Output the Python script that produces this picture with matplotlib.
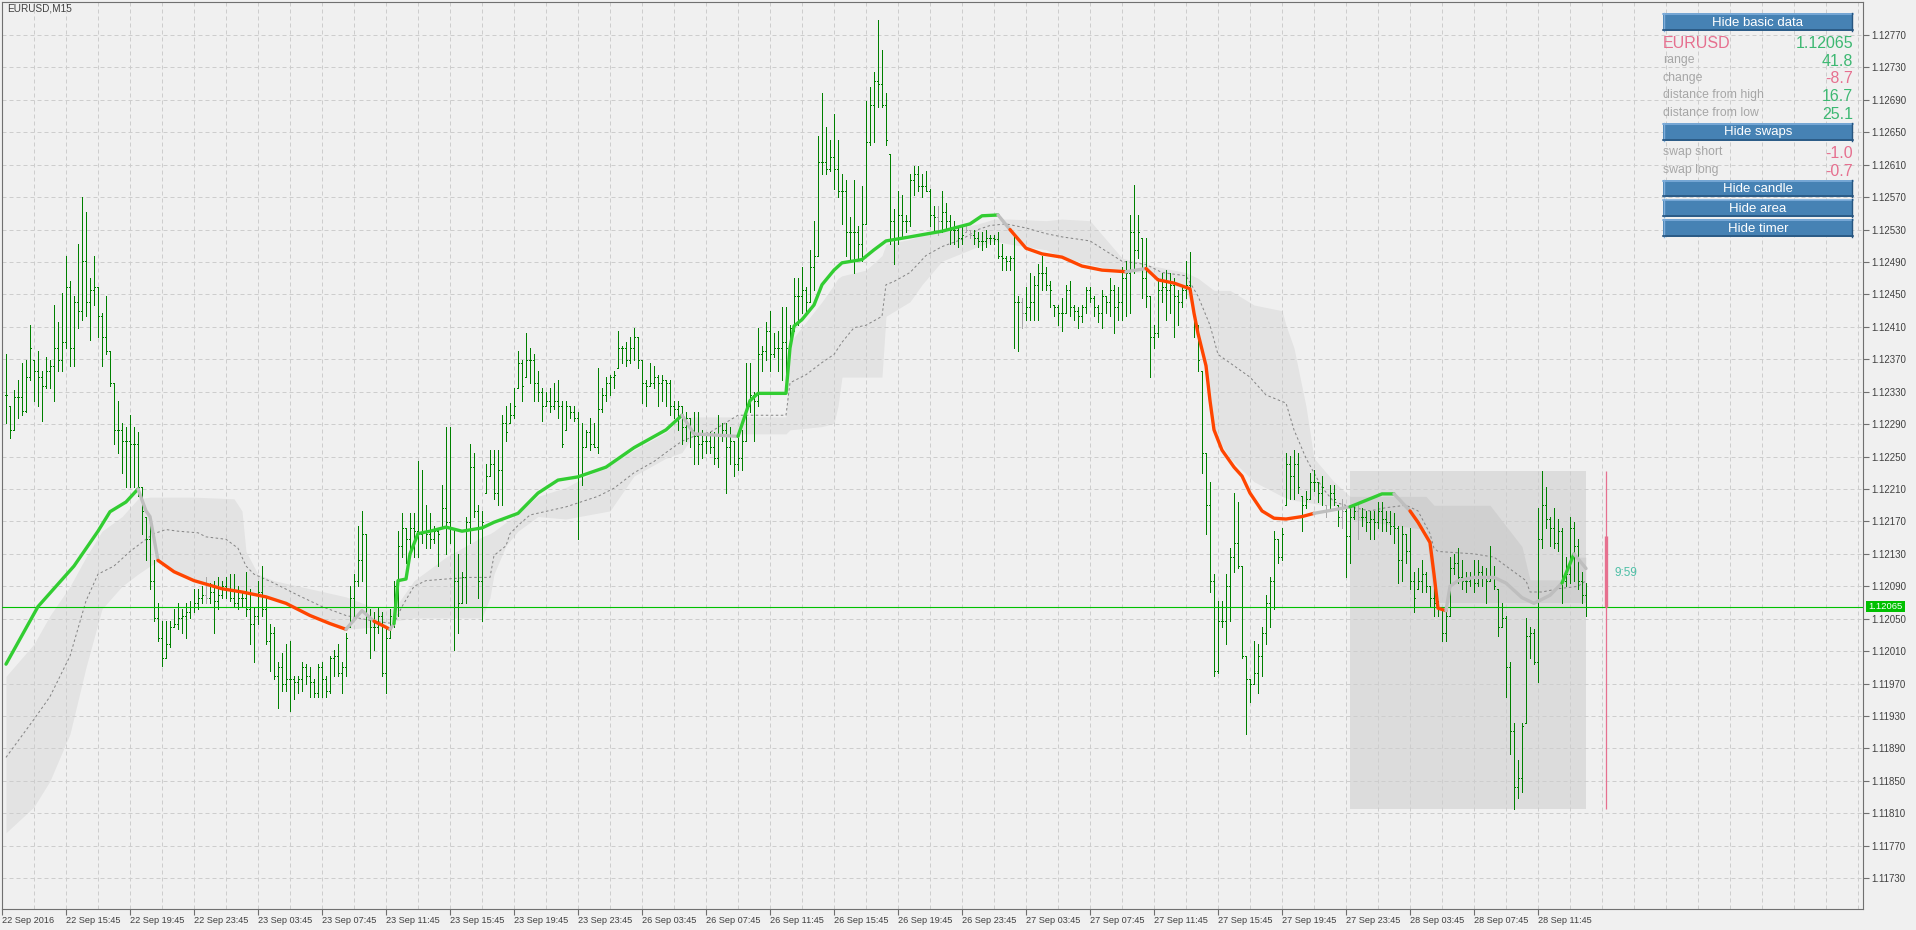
import matplotlib
matplotlib.use('Agg')
import matplotlib.pyplot as plt
from matplotlib.collections import LineCollection
from matplotlib.patches import Rectangle
import numpy as np

plt.rcParams['font.family'] = ['Liberation Sans', 'DejaVu Sans']

# EURUSD M15 bars, prices in points (1e-5)
high_pts = [
    112376, 112312, 112332, 112344, 112366, 112369, 112412, 112369, 112380, 112355,
    112373, 112369, 112437, 112416, 112452, 112498, 112466, 112448, 112512, 112570,
    112552, 112470, 112498, 112459, 112427, 112448, 112380, 112341, 112319, 112291,
    112287, 112301, 112287, 112280, 112212, 112176, 112169, 112122, 112069, 112047,
    112047, 112047, 112062, 112069, 112062, 112069, 112072, 112087, 112087, 112090,
    112101, 112094, 112097, 112101, 112097, 112101, 112105, 112105, 112090, 112083,
    112108, 112087, 112065, 112097, 112115, 112076, 112044, 112040, 111997, 112008,
    112019, 112022, 111979, 111979, 111997, 111994, 111990, 111976, 111994, 111997,
    111979, 112004, 112012, 112019, 111997, 112033, 112090, 112105, 112165, 112183,
    112155, 112062, 112058, 112065, 112058, 112040, 112062, 112097, 112158, 112180,
    112162, 112180, 112180, 112244, 112233, 112190, 112180, 112165, 112162, 112215,
    112287, 112287, 112162, 112130, 112108, 112176, 112266, 112255, 112190, 112183,
    112241, 112258, 112258, 112258, 112301, 112312, 112316, 112334, 112380, 112369,
    112402, 112384, 112376, 112355, 112334, 112330, 112334, 112341, 112344, 112319,
    112319, 112312, 112312, 112305, 112291, 112283, 112298, 112291, 112359, 112334,
    112348, 112351, 112355, 112405, 112387, 112391, 112398, 112409, 112398, 112369,
    112344, 112366, 112362, 112351, 112351, 112344, 112344, 112319, 112319, 112312,
    112305, 112298, 112305, 112305, 112283, 112276, 112280, 112280, 112301, 112291,
    112291, 112287, 112269, 112280, 112283, 112366, 112366, 112330, 112409, 112387,
    112416, 112430, 112402, 112405, 112434, 112434, 112412, 112470, 112470, 112484,
    112459, 112505, 112541, 112645, 112698, 112656, 112641, 112673, 112641, 112598,
    112591, 112545, 112591, 112534, 112584, 112688, 112706, 112724, 112788, 112752,
    112698, 112623, 112555, 112577, 112573, 112548, 112598, 112609, 112609, 112598,
    112602, 112580, 112559, 112559, 112577, 112563, 112548, 112541, 112534, 112534,
    112537, 112530, 112530, 112527, 112527, 112530, 112523, 112523, 112527, 112512,
    112498, 112498, 112523, 112448, 112445, 112459, 112477, 112473, 112487, 112498,
    112484, 112466, 112437, 112437, 112445, 112462, 112466, 112437, 112434, 112437,
    112459, 112459, 112448, 112437, 112455, 112448, 112470, 112462, 112459, 112484,
    112491, 112548, 112585, 112548, 112520, 112520, 112448, 112412, 112470, 112477,
    112480, 112477, 112470, 112455, 112462, 112491, 112502, 112430, 112412, 112355,
    112255, 112219, 112105, 112072, 112072, 112105, 112137, 112205, 112194, 112115,
    112004, 111976, 112022, 112019, 112040, 112079, 112101, 112158, 112148, 112162,
    112255, 112251, 112258, 112255, 112201, 112208, 112230, 112233, 112219, 112226,
    112190, 112215, 112215, 112190, 112198, 112187, 112187, 112190, 112190, 112187,
    112183, 112183, 112183, 112194, 112194, 112183, 112183, 112180, 112165, 112165,
    112155, 112162, 112108, 112112, 112122, 112108, 112090, 112097, 112072, 112062,
    112058, 112126, 112130, 112137, 112122, 112108, 112108, 112122, 112122, 112115,
    112112, 112140, 112115, 112087, 112069, 112054, 111997, 111922, 111876, 111922,
    112051, 112040, 112037, 112187, 112232, 112212, 112176, 112187, 112173, 112162,
    112126, 112176, 112169, 112148, 112108, 112094,
]
low_pts = [
    112291, 112273, 112283, 112298, 112301, 112305, 112344, 112319, 112312, 112294,
    112335, 112334, 112319, 112355, 112355, 112384, 112362, 112362, 112409, 112419,
    112423, 112394, 112437, 112398, 112362, 112376, 112337, 112266, 112255, 112230,
    112212, 112212, 112212, 112201, 112155, 112122, 112087, 112047, 112022, 111992,
    112001, 112015, 112040, 112037, 112033, 112026, 112051, 112058, 112062, 112069,
    112069, 112069, 112033, 112062, 112076, 112076, 112072, 112065, 112062, 112065,
    112054, 112019, 111997, 112044, 112054, 112019, 111986, 111976, 111940, 111961,
    111961, 111936, 111951, 111958, 111961, 111969, 111954, 111954, 111954, 111954,
    111954, 111958, 111979, 111979, 111958, 111979, 112040, 112054, 112090, 112097,
    112033, 112001, 112012, 112033, 111979, 111958, 112026, 112040, 112054, 112126,
    112119, 112137, 112126, 112126, 112144, 112137, 112137, 112144, 112115, 112162,
    112130, 112144, 112012, 112033, 112069, 112069, 112144, 112176, 112076, 112047,
    112205, 112226, 112198, 112190, 112190, 112269, 112291, 112298, 112334, 112319,
    112348, 112341, 112319, 112319, 112294, 112312, 112305, 112309, 112298, 112262,
    112283, 112298, 112294, 112148, 112215, 112262, 112258, 112262, 112255, 112305,
    112319, 112326, 112334, 112359, 112366, 112362, 112366, 112369, 112359, 112316,
    112312, 112337, 112334, 112312, 112319, 112312, 112301, 112298, 112283, 112266,
    112269, 112262, 112241, 112241, 112248, 112255, 112255, 112241, 112237, 112269,
    112205, 112241, 112226, 112233, 112233, 112269, 112305, 112269, 112312, 112355,
    112369, 112355, 112373, 112355, 112344, 112337, 112384, 112405, 112412, 112427,
    112430, 112441, 112455, 112498, 112598, 112598, 112602, 112580, 112570, 112537,
    112498, 112491, 112477, 112495, 112491, 112537, 112634, 112638, 112681, 112681,
    112634, 112512, 112487, 112512, 112520, 112527, 112534, 112573, 112577, 112570,
    112577, 112534, 112527, 112523, 112527, 112530, 112512, 112512, 112509, 112512,
    112527, 112520, 112512, 112509, 112505, 112509, 112512, 112512, 112495, 112480,
    112480, 112480, 112384, 112380, 112409, 112419, 112419, 112419, 112419, 112455,
    112455, 112434, 112423, 112412, 112405, 112427, 112423, 112419, 112409, 112416,
    112427, 112441, 112423, 112416, 112409, 112427, 112423, 112402, 112419, 112419,
    112423, 112427, 112477, 112495, 112445, 112434, 112348, 112384, 112398, 112441,
    112419, 112427, 112398, 112412, 112434, 112445, 112448, 112398, 112355, 112230,
    112155, 112083, 111979, 111983, 112040, 112019, 112047, 112108, 112112, 112001,
    111908, 111947, 111969, 111958, 111979, 112019, 112040, 112062, 112119, 112122,
    112190, 112198, 112198, 112205, 112158, 112187, 112198, 112208, 112194, 112190,
    112176, 112183, 112190, 112165, 112162, 112101, 112119, 112173, 112148, 112165,
    112158, 112148, 112148, 112162, 112158, 112158, 112155, 112144, 112094, 112097,
    112119, 112087, 112058, 112087, 112083, 112083, 112065, 112054, 112054, 112022,
    112022, 112054, 112105, 112094, 112087, 112083, 112090, 112083, 112090, 112090,
    112069, 112097, 112087, 112029, 112040, 111954, 111883, 111815, 111829, 111836,
    111922, 112001, 111994, 111972, 112137, 112162, 112140, 112137, 112133, 112069,
    112090, 112094, 112097, 112087, 112069, 112054,
]
close_pts = [
    112326, 112283, 112323, 112323, 112306, 112348, 112384, 112355, 112348, 112337,
    112355, 112362, 112384, 112369, 112391, 112459, 112384, 112441, 112430, 112491,
    112441, 112455, 112459, 112423, 112398, 112380, 112341, 112283, 112283, 112269,
    112269, 112266, 112266, 112212, 112183, 112148, 112097, 112051, 112026, 112001,
    112019, 112040, 112044, 112051, 112054, 112058, 112065, 112069, 112076, 112079,
    112076, 112083, 112072, 112079, 112090, 112087, 112076, 112069, 112076, 112076,
    112062, 112044, 112054, 112083, 112062, 112022, 112033, 111979, 111990, 111969,
    111976, 111976, 111972, 111976, 111990, 111979, 111972, 111958, 111990, 111976,
    111961, 112001, 112004, 111983, 111990, 112026, 112076, 112097, 112122, 112155,
    112054, 112040, 112040, 112054, 111983, 112026, 112054, 112090, 112140, 112162,
    112148, 112162, 112158, 112155, 112158, 112155, 112148, 112158, 112155, 112187,
    112169, 112162, 112097, 112069, 112101, 112169, 112237, 112183, 112097, 112169,
    112226, 112241, 112205, 112233, 112291, 112280, 112301, 112312, 112366, 112337,
    112369, 112369, 112341, 112330, 112312, 112319, 112312, 112319, 112312, 112266,
    112312, 112305, 112298, 112226, 112262, 112280, 112266, 112262, 112309, 112326,
    112341, 112348, 112351, 112384, 112384, 112369, 112384, 112398, 112369, 112341,
    112337, 112341, 112348, 112341, 112344, 112341, 112312, 112309, 112312, 112287,
    112298, 112283, 112276, 112266, 112269, 112269, 112262, 112248, 112276, 112283,
    112262, 112269, 112241, 112248, 112269, 112312, 112326, 112319, 112376, 112380,
    112405, 112376, 112384, 112384, 112391, 112384, 112409, 112448, 112448, 112455,
    112441, 112484, 112498, 112613, 112613, 112605, 112620, 112605, 112577, 112577,
    112527, 112527, 112527, 112512, 112537, 112638, 112684, 112713, 112709, 112684,
    112641, 112541, 112520, 112548, 112541, 112541, 112591, 112598, 112584, 112584,
    112577, 112548, 112545, 112541, 112552, 112541, 112530, 112530, 112520, 112523,
    112530, 112523, 112520, 112516, 112516, 112520, 112520, 112518, 112498, 112495,
    112491, 112495, 112441, 112441, 112427, 112434, 112441, 112462, 112477, 112477,
    112462, 112455, 112434, 112427, 112427, 112455, 112434, 112430, 112423, 112434,
    112455, 112445, 112434, 112427, 112448, 112441, 112455, 112434, 112441, 112470,
    112477, 112527, 112505, 112527, 112470, 112448, 112398, 112402, 112455, 112459,
    112455, 112462, 112448, 112441, 112455, 112462, 112455, 112412, 112369, 112255,
    112190, 112097, 111986, 112047, 112047, 112090, 112126, 112144, 112115, 112004,
    111976, 111969, 111983, 112004, 112033, 112069, 112097, 112148, 112126, 112155,
    112241, 112226, 112241, 112212, 112190, 112198, 112219, 112219, 112205, 112212,
    112183, 112205, 112198, 112176, 112183, 112152, 112176, 112183, 112176, 112176,
    112169, 112173, 112169, 112183, 112173, 112169, 112165, 112162, 112122, 112155,
    112133, 112097, 112076, 112097, 112105, 112090, 112076, 112069, 112062, 112033,
    112054, 112112, 112119, 112101, 112097, 112097, 112101, 112094, 112108, 112101,
    112097, 112101, 112090, 112040, 112051, 111990, 111911, 111843, 111854, 111918,
    112029, 112033, 111997, 112148, 112190, 112173, 112162, 112144, 112158, 112097,
    112105, 112162, 112140, 112097, 112079, 112065,
]
gray_bars = [50, 233, 240, 241, 254, 330, 334, 338]

# coloured moving average: g = rising, r = falling, n = flat
ma_idx = [0, 8, 17, 23, 26, 30, 33, 35, 36, 38, 42, 47, 54, 59, 65, 70, 76, 81, 85, 89,
          92, 96, 97, 98, 100, 101, 103, 106, 110, 114, 119, 122, 128, 133, 138, 143, 150,
          157, 165, 169, 172, 183, 186, 188, 195, 196, 197, 199, 202, 204, 207, 209, 214,
          217, 220, 226, 234, 241, 244, 248, 251, 255, 259, 264, 269, 274, 280, 285, 288,
          292, 296, 297, 298, 300, 301, 302, 304, 307, 309, 311, 314, 317, 320, 324, 327,
          336, 341, 344, 347, 351, 353, 356, 357, 358, 360, 361, 363, 367, 372, 375, 379,
          382, 386, 389, 392, 395]
ma_pts = [111994, 112065, 112115, 112158, 112182, 112194, 112210, 112183, 112176, 112122,
          112108, 112097, 112087, 112083, 112077, 112069, 112054, 112044, 112037, 112060,
          112047, 112037, 112044, 112097, 112099, 112130, 112155, 112158, 112163, 112158,
          112162, 112169, 112180, 112205, 112221, 112225, 112237, 112261, 112283, 112301,
          112278, 112275, 112319, 112328, 112328, 112384, 112411, 112419, 112437, 112462,
          112480, 112489, 112493, 112505, 112516, 112521, 112528, 112537, 112547, 112548,
          112530, 112507, 112500, 112496, 112485, 112480, 112478, 112482, 112468, 112464,
          112457, 112427, 112402, 112362, 112319, 112283, 112258, 112237, 112226, 112205,
          112183, 112174, 112173, 112176, 112180, 112188, 112198, 112204, 112204, 112183,
          112169, 112144, 112105, 112063, 112060, 112090, 112097, 112101, 112101, 112094,
          112076, 112069, 112079, 112094, 112130, 112112]
ma_state = ('gggggg' 'nnn' 'rrrrrrrrr' 'nn' 'r' 'n' 'ggggggggggggggggg' 'nn'
            'gggggggggggggggggg' 'n' 'rrrrrr' 'n' 'rrrrrrrrrrrrrrrrr' 'n' 'ggg' 'n'
            'rrrrr' 'nnnnnnnnn' 'g' 'nn')

# dotted centre line
dash_idx = [0, 7, 11, 16, 20, 23, 27, 31, 35, 37, 40, 43, 48, 50, 55, 58, 60, 62, 67, 73,
            79, 85, 88, 92, 97, 99, 102, 105, 110, 116, 121, 122, 125, 126, 128, 131, 140,
            148, 152, 157, 162, 165, 169, 172, 176, 183, 195, 196, 200, 204, 207, 209, 212,
            215, 219, 220, 222, 226, 230, 234, 239, 243, 246, 250, 255, 260, 264, 271, 279,
            285, 289, 295, 298, 301, 303, 307, 311, 315, 320, 322, 325, 329, 332, 337, 341,
            345, 350, 353, 356, 357, 358, 367, 372, 375, 380, 381, 384, 388, 393, 395]
dash_pts = [111879, 111926, 111954, 112004, 112072, 112105, 112115, 112133, 112148, 112155,
            112160, 112158, 112156, 112151, 112148, 112137, 112115, 112105, 112094, 112079,
            112065, 112054, 112051, 112047, 112044, 112065, 112090, 112097, 112099, 112101,
            112101, 112128, 112140, 112155, 112165, 112178, 112188, 112201, 112211, 112230,
            112244, 112255, 112269, 112275, 112280, 112301, 112301, 112341, 112351, 112366,
            112376, 112391, 112409, 112412, 112423, 112462, 112466, 112477, 112498, 112509,
            112518, 112530, 112535, 112537, 112532, 112525, 112521, 112516, 112491, 112487,
            112477, 112473, 112448, 112412, 112376, 112362, 112348, 112326, 112316, 112283,
            112248, 112212, 112194, 112187, 112183, 112187, 112190, 112183, 112155, 112137,
            112133, 112130, 112126, 112115, 112097, 112083, 112083, 112087, 112090, 112097]

# shaded area around the average
band_idx = [0, 7, 11, 16, 20, 24, 29, 33, 36, 38, 47, 57, 59, 60, 63, 67, 76, 85, 93, 97,
            102, 110, 119, 121, 122, 125, 128, 133, 140, 151, 157, 165, 169, 172, 183, 195,
            196, 204, 207, 208, 209, 215, 219, 220, 226, 229, 234, 243, 247, 251, 260, 264,
            271, 279, 285, 295, 298, 302, 306, 312, 319, 320, 322, 325, 327, 332, 336, 337,
            355, 357, 371, 379, 381, 390, 391, 395]
band_hi = [111979, 112019, 112054, 112090, 112126, 112158, 112176, 112198, 112200, 112200,
           112200, 112198, 112183, 112133, 112105, 112097, 112087, 112077, 112062, 112062,
           112097, 112126, 112151, 112155, 112158, 112169, 112180, 112201, 112212, 112241,
           112258, 112280, 112298, 112299, 112299, 112299, 112391, 112441, 112462, 112470,
           112473, 112480, 112498, 112512, 112518, 112523, 112528, 112537, 112543, 112543,
           112541, 112543, 112541, 112495, 112487, 112477, 112470, 112455, 112455, 112437,
           112430, 112412, 112384, 112312, 112248, 112219, 112201, 112201, 112201, 112190,
           112190, 112139, 112098, 112098, 112126, 112126]
band_lo = [111786, 111818, 111850, 111908, 111990, 112062, 112090, 112105, 112115, 112120,
           112097, 112087, 112085, 112083, 112079, 112075, 112054, 112037, 112040, 112047,
           112051, 112051, 112051, 112076, 112105, 112140, 112158, 112176, 112173, 112183,
           112226, 112248, 112255, 112278, 112278, 112278, 112283, 112287, 112291, 112312,
           112348, 112348, 112348, 112423, 112441, 112462, 112491, 112509, 112516, 112512,
           112505, 112496, 112487, 112478, 112477, 112455, 112412, 112280, 112248, 112219,
           112201, 112199, 112196, 112194, 112192, 112189, 112187, 112172, 112160, 112070,
           112070, 112070, 112070, 112070, 112070, 112070]

# current day
day_start = 336
day_open = 1.12152
day_high = 1.12232
day_low = 1.11815
bid = 1.12065
timer = '9:59'

x_labels = ['22 Sep 2016', '22 Sep 15:45', '22 Sep 19:45', '22 Sep 23:45', '23 Sep 03:45',
            '23 Sep 07:45', '23 Sep 11:45', '23 Sep 15:45', '23 Sep 19:45', '23 Sep 23:45',
            '26 Sep 03:45', '26 Sep 07:45', '26 Sep 11:45', '26 Sep 15:45', '26 Sep 19:45',
            '26 Sep 23:45', '27 Sep 03:45', '27 Sep 07:45', '27 Sep 11:45', '27 Sep 15:45',
            '27 Sep 19:45', '27 Sep 23:45', '28 Sep 03:45', '28 Sep 07:45', '28 Sep 11:45']

info_labels = ['range', 'change', 'distance from high', 'distance from low']
info_values = ['41.8', '-8.7', '16.7', '25.1']
swap_labels = ['swap short', 'swap long']
swap_values = ['-1.0', '-0.7']

GREEN_BAR = '#008000'
BG = '#F0F0F0'
PINK = '#E6708F'
VGREEN = '#3DB872'

high = np.array(high_pts) / 1e5
low = np.array(low_pts) / 1e5
close = np.array(close_pts) / 1e5
n = len(high)
# open of a bar = previous close, kept inside the bar range
opens = np.clip(np.r_[close[0], close[:-1]], low, high)

fig = plt.figure(figsize=(19.16, 9.30), dpi=100, facecolor=BG)
ax = fig.add_axes([2 / 1916, 21 / 930, 1861 / 1916, 907 / 930])
ax.set_facecolor(BG)
ax.set_xlim(-1, 464.25)
ax.set_ylim(1.116920, 1.128107)

# grid
yt = np.arange(1.11730, 1.12771, 0.0004)
for p in yt:
    ax.axhline(p, color='#CDCDCD', lw=0.72, ls=(0, (4, 3)), zorder=1.5)
for gx in np.arange(7, 464, 8):
    ax.axvline(gx, color='#CDCDCD', lw=0.72, ls=(0, (4, 3)), zorder=1.5)

# day range box and shaded area
ax.add_patch(Rectangle((day_start, day_low), n - 1 - day_start, day_high - day_low,
                       facecolor='#DCDCDC', edgecolor='none', zorder=0.8))
ax.fill_between(band_idx, np.array(band_lo) / 1e5, np.array(band_hi) / 1e5,
                color='black', alpha=0.05, lw=0, zorder=1)

ax.plot(dash_idx, np.array(dash_pts) / 1e5, color='#858585', lw=0.72,
        ls=(0, (2.5, 2.5)), zorder=2)

# OHLC bars
segs, cols = [], []
for i in range(n):
    c = '#A8A8A8' if i in gray_bars else GREEN_BAR
    segs += [[(i, low[i]), (i, high[i])],
             [(i - 0.3, opens[i]), (i, opens[i])],
             [(i, close[i]), (i + 0.3, close[i])]]
    cols += [c, c, c]
ax.add_collection(LineCollection(segs, colors=cols, linewidths=0.72, antialiased=False, zorder=3))

# current price line
ax.axhline(bid, color='#00C000', lw=0.8, zorder=3.5)

# coloured average drawn run by run
ma_val = np.array(ma_pts) / 1e5
ma_col = {'g': '#32CD32', 'r': '#FF4500', 'n': '#BEBEBE'}
k = 0
while k < len(ma_idx) - 1:
    s = ma_state[k]
    j = k
    while j < len(ma_idx) - 1 and ma_state[j] == s:
        j += 1
    ax.plot(ma_idx[k:j + 1], ma_val[k:j + 1], color=ma_col[s], lw=2.4,
            solid_capstyle='round', solid_joinstyle='round', zorder=4)
    k = j

# daily candle to the right
cx = n - 1 + 5
ax.vlines(cx, day_low, day_high, color=PINK, lw=0.9, zorder=4)
ax.vlines(cx, min(day_open, bid), max(day_open, bid), color=PINK, lw=2.4, zorder=4)

# axes styling
for sp in ax.spines.values():
    sp.set_color('#707070')
    sp.set_linewidth(0.8)
ax.yaxis.tick_right()
ax.set_yticks(yt)
ax.set_yticklabels([f'{v:.5f}' for v in yt])
ax.tick_params(axis='y', length=4, width=0.8, color='#707070', pad=2,
               labelsize=7, labelcolor='#404040')
xt = [-1] + [15 + 16 * k for k in range(len(x_labels) - 1)]
ax.set_xticks(xt)
ax.set_xticklabels(x_labels)
for t in ax.get_xticklabels():
    t.set_ha('left')
ax.tick_params(axis='x', length=4, width=0.8, color='#707070', pad=1,
               labelsize=6.6, labelcolor='#404040')

# overlay in pixel coordinates for the panel and labels
ov = fig.add_axes([0, 0, 1, 1])
ov.set_xlim(0, 1916)
ov.set_ylim(930, 0)
ov.axis('off')
ov.patch.set_alpha(0)

ov.text(7, 8.5, 'EURUSD,M15', fontsize=7.2, color='#404040', va='center', ha='left')


def button(y0, y1, label):
    ov.add_patch(Rectangle((1663, y0), 190, y1 - y0, facecolor='#4682B4', edgecolor='none'))
    ov.plot([1663, 1853], [y0 + 0.7, y0 + 0.7], color='#7FAEDB', lw=1.2)
    ov.plot([1663.7, 1663.7], [y0, y1], color='#7FAEDB', lw=1.0)
    ov.plot([1663, 1853], [y1 - 0.7, y1 - 0.7], color='#27557F', lw=1.2)
    ov.plot([1852.3, 1852.3], [y0, y1], color='#27557F', lw=1.0)
    ov.text(1758, (y0 + y1) / 2 + 0.5, label, color='white', fontsize=9.5, ha='center', va='center')


def value_color(v):
    return PINK if v.startswith('-') else VGREEN


button(13, 31, 'Hide basic data')
ov.text(1663, 43, 'EURUSD', color=PINK, fontsize=11.5, ha='left', va='center')
ov.text(1853, 43, f'{bid:.5f}', color=VGREEN, fontsize=11.5, ha='right', va='center')
for k, (lab, val) in enumerate(zip(info_labels, info_values)):
    yy = 60 + 17.7 * k
    ov.text(1663, yy, lab, color='#A6A6A6', fontsize=8.8, ha='left', va='center')
    ov.text(1853, yy + 1, val, color=value_color(val), fontsize=11.5, ha='right', va='center')
button(123, 141, 'Hide swaps')
for k, (lab, val) in enumerate(zip(swap_labels, swap_values)):
    yy = 152 + 18 * k
    ov.text(1663, yy, lab, color='#A6A6A6', fontsize=8.8, ha='left', va='center')
    ov.text(1853, yy + 1, val, color=value_color(val), fontsize=11.5, ha='right', va='center')
button(180, 197, 'Hide candle')
button(199.5, 217, 'Hide area')
button(219, 237, 'Hide timer')

# timer and bid label
ov.text(1615, 573, timer, color='#4DBFA6', fontsize=8.5, ha='left', va='center')
ov.add_patch(Rectangle((1866, 601), 39, 10.5, facecolor='#00C000', edgecolor='none'))
ov.text(1885.5, 606.3, f'{bid:.5f}', color='white', fontsize=6.8, ha='center', va='center')

fig.savefig('out.png', dpi=100, facecolor=BG)
